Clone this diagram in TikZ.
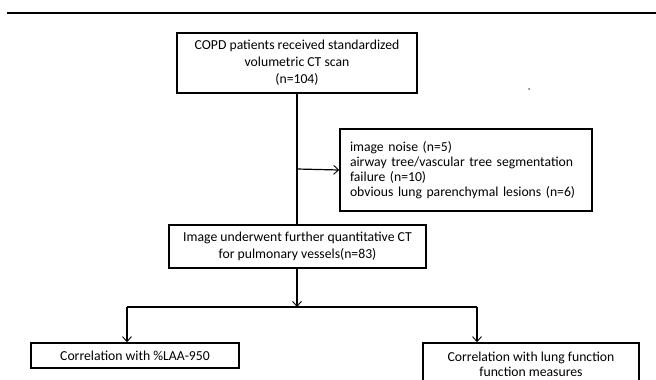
\documentclass[tikz,border=0pt]{standalone}
\usepackage{fontspec}
\setmainfont{Carlito}
\usetikzlibrary{arrows.meta}
\begin{document}
\begin{tikzpicture}[x=1pt,y=-1pt,
  box/.style={draw,line width=1.5pt,inner sep=0pt,align=center,font=\fontsize{13.7}{17}\selectfont},
  conn/.style={line width=1.2pt},
  arr/.style={conn,-{Straight Barb[length=5pt,width=9pt,line width=0.9pt]}}]
\useasboundingbox (0,0) rectangle (656,380);
\fill[white] (0,0) rectangle (656,380);
\clip (0,0) rectangle (656,380);
\draw[line width=2.2pt] (7,13) -- (656,13);
\fill[black!60] (529,89) circle (1pt);
\node[box,minimum width=240pt,minimum height=60pt] (b1) at (297,63)
  {COPD patients received standardized\\volumetric CT scan\\(n=104)};
\node[box,minimum width=252pt,minimum height=82pt,text width=232pt,align=left,
  font=\fontsize{13.7}{15.2}\selectfont] (b2) at (466,170)
  {image noise (n=5)\\airway tree/vascular tree segmentation\\failure (n=10)\\obvious lung parenchymal lesions (n=6)};
\node[box,minimum width=257pt,minimum height=43pt] (b3) at (297.5,246.5)
  {Image underwent further quantitative CT\\for pulmonary vessels(n=83)};
\node[box,minimum width=208pt,minimum height=25pt] (b4) at (135,355.5)
  {Correlation with \%LAA-950};
\node[box,minimum width=216pt,minimum height=43pt,font=\fontsize{13.7}{15}\selectfont] (b5) at (531,364.5)
  {Correlation with lung function\\function measures};
\coordinate (c1) at (297,93);
\coordinate (j1) at (297,169);
\coordinate (jm) at (297,307);
\coordinate (jl) at (127,307);
\coordinate (jr) at (477,307);
\draw[conn] (c1) -- (c1 |- b3.north);
\draw[arr] (j1) -- (b2.west);
\draw[arr] (c1 |- b3.south) -- (jm);
\draw[conn] (jl) -- (jr);
\draw[arr] (jl) -- (jl |- b4.north);
\draw[arr] (jr) -- (jr |- b5.north);
\end{tikzpicture}
\end{document}
